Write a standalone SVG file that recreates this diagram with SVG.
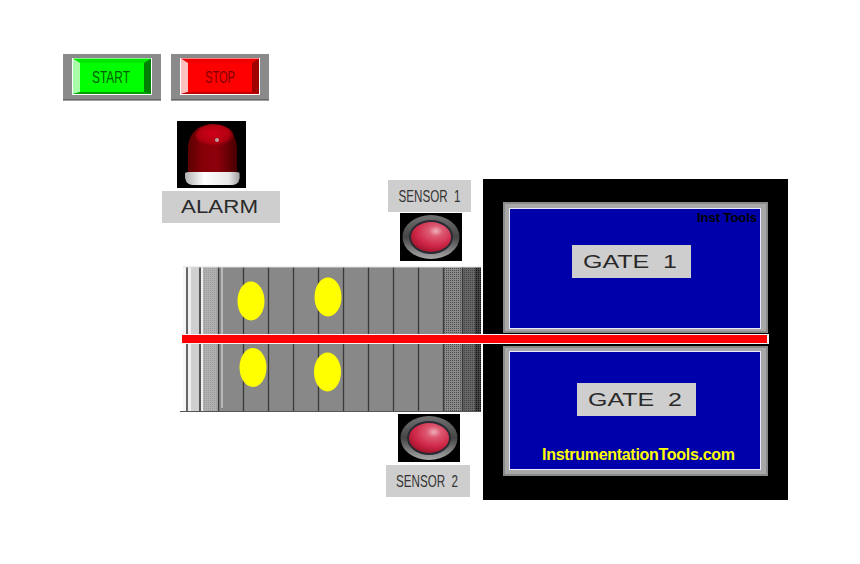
<svg xmlns="http://www.w3.org/2000/svg" width="860" height="564" viewBox="0 0 860 564">
<style>
.thin{font-family:"Liberation Sans",Arial,sans-serif;fill:#333;text-anchor:middle;font-size:16.500px}
.wide{font-family:"Liberation Sans",Arial,sans-serif;fill:#2a2a2a;text-anchor:middle;font-size:18px}
.lbl{fill:#cecece}
.belt{stroke:#3a3a3a;stroke-width:1.300}
.bar{stroke:#e8e8e8;stroke-width:1}
.dot{fill:#ffff00}
.frame{fill:#8a8a8a}
.frame2{fill:#a8a8a8}
.face{fill:#0000aa;stroke:#e8e8ff;stroke-width:1}
</style>
<defs>
<pattern id="st1" width="2" height="2" patternUnits="userSpaceOnUse"><rect width="2" height="2" fill="#b0b0b0"/><rect width="1" height="1" fill="#999"/></pattern>
<pattern id="st2" width="2" height="2" patternUnits="userSpaceOnUse"><rect width="2" height="2" fill="#8a8a8a"/><rect width="1" height="1" fill="#4c4c4c"/></pattern>
<pattern id="st3" width="2" height="2" patternUnits="userSpaceOnUse"><rect width="2" height="2" fill="#666"/><rect width="1" height="1" fill="#444"/></pattern>
<pattern id="st4" width="2" height="2" patternUnits="userSpaceOnUse"><rect width="2" height="2" fill="#444"/><rect width="1" height="1" fill="#111"/></pattern>
<radialGradient id="lamp" cx="0.62" cy="0.3" r="0.8"><stop offset="0" stop-color="#f0b0bc"/><stop offset="0.22" stop-color="#dc5a72"/><stop offset="0.6" stop-color="#d02848"/><stop offset="1" stop-color="#980c24"/></radialGradient>
<linearGradient id="ring" x1="0" y1="0" x2="0" y2="1"><stop offset="0" stop-color="#707070"/><stop offset="0.5" stop-color="#454545"/><stop offset="1" stop-color="#a8a8a8"/></linearGradient>
<linearGradient id="dome" x1="0" y1="0" x2="1" y2="0"><stop offset="0" stop-color="#5a0000"/><stop offset="0.3" stop-color="#860008"/><stop offset="0.6" stop-color="#8c000c"/><stop offset="1" stop-color="#480000"/></linearGradient>
<radialGradient id="glow" cx="0.45" cy="0.4" r="0.6"><stop offset="0" stop-color="#d00018"/><stop offset="0.7" stop-color="#b00010"/><stop offset="1" stop-color="#8c000c" stop-opacity="0"/></radialGradient>
<linearGradient id="base" x1="0" y1="0" x2="1" y2="0"><stop offset="0" stop-color="#b0b0b0"/><stop offset="0.35" stop-color="#fff"/><stop offset="0.8" stop-color="#e8e8e8"/><stop offset="1" stop-color="#a0a0a0"/></linearGradient>
</defs>
<rect width="860" height="564" fill="#fff"/>

<g id="start">
<rect x="63" y="54" width="98" height="46" class="frame"/>
<rect x="63" y="99.500" width="98" height="1" fill="#444"/>
<rect x="72" y="58" width="80" height="37" fill="#fff"/>
<rect x="73" y="58.500" width="78" height="35.500" fill="#00e800"/>
<polygon points="73,58.500 80,63 80,92 73,94" fill="#a8ffa8"/>
<polygon points="151,58.500 144,63 144,92 151,94" fill="#008000"/>
<polygon points="73,94 80,92 144,92 151,94" fill="#00a000"/>
<rect x="80" y="63" width="64" height="29" fill="#00ff00"/>
<text class="thin" x="111" y="83" textLength="38" lengthAdjust="spacingAndGlyphs" style="fill:#006000">START</text>
</g>
<g id="stop">
<rect x="171" y="54" width="98" height="46" class="frame"/>
<rect x="171" y="99.500" width="98" height="1" fill="#444"/>
<rect x="180" y="58" width="80" height="37" fill="#fff"/>
<rect x="181" y="58.500" width="78" height="35.500" fill="#f00000"/>
<polygon points="181,58.500 188,63 188,92 181,94" fill="#ffc0c0"/>
<polygon points="259,58.500 252,63 252,92 259,94" fill="#a00000"/>
<polygon points="181,94 188,92 252,92 259,94" fill="#c00000"/>
<rect x="188" y="63" width="64" height="29" fill="#ff0000"/>
<text class="thin" x="220" y="83" textLength="30" lengthAdjust="spacingAndGlyphs" style="fill:#800000">STOP</text>
</g>

<g id="alarm">
<rect x="177" y="121" width="69" height="67" fill="#000"/>
<path d="M188,174 V149 C188,133 199,124 213,124 C228,124 237,135 237,150 V174 Z" fill="url(#dome)"/>
<ellipse cx="215" cy="136" rx="19" ry="11" fill="url(#glow)"/>
<circle cx="217" cy="140" r="2" fill="#b8a0a0"/>
<path d="M185,173 Q186,172 190,172 H235 Q239,172 239.500,173 Q241,184 233,185 H192 Q184,184 185,173 Z" fill="url(#base)"/>
<rect x="162" y="191" width="118" height="32" class="lbl"/>
<text class="wide" x="219.500" y="212.500" textLength="77" lengthAdjust="spacingAndGlyphs">ALARM</text>
</g>

<g id="conveyor">
<rect x="183" y="267" width="298" height="144" fill="#888"/>
<rect x="183" y="267" width="3" height="144" fill="#f6f6f6"/>
<rect x="186" y="267" width="2" height="144" fill="#666"/>
<rect x="188" y="267" width="3" height="144" fill="#f0f0f0"/>
<rect x="191" y="267" width="8" height="144" fill="#d0d0d0"/>
<rect x="199" y="267" width="2" height="144" fill="#555"/>
<rect x="201" y="267" width="2" height="144" fill="#eee"/>
<rect x="203" y="267" width="15" height="144" fill="url(#st1)"/>
<rect x="444" y="267" width="18" height="144" fill="url(#st2)"/>
<rect x="463" y="267" width="12" height="144" fill="url(#st3)"/>
<rect x="475" y="267" width="6" height="144" fill="url(#st4)"/>
<line class="bar" x1="222" y1="267" x2="222" y2="408"/>
<path class="belt" d="M218.500,267V411M243.500,267V411M268.500,267V411M293.500,267V411M318.500,267V411M343.500,267V411M368.500,267V411M393.500,267V411M418.500,267V411M443.500,267V411M462.500,267V411"/>
<line x1="180" y1="411.500" x2="481" y2="411.500" stroke="#555" stroke-width="1.200"/>
<line x1="183" y1="267" x2="481" y2="267" stroke="#ddd" stroke-width="1"/>
<ellipse class="dot" cx="251" cy="301" rx="13.500" ry="19.500"/>
<ellipse class="dot" cx="328" cy="297" rx="13.500" ry="19.500"/>
<ellipse class="dot" cx="253" cy="367.500" rx="13.500" ry="19.500"/>
<ellipse class="dot" cx="327.500" cy="372" rx="13.500" ry="19.500"/>
</g>

<g id="gates">
<rect x="483" y="179" width="305" height="321" fill="#000"/>
</g>
<g id="gate1">
<rect x="503" y="202" width="265" height="131" class="frame"/>
<rect x="505" y="204" width="261" height="127" class="frame2"/>
<rect x="509.500" y="208.500" width="251" height="120" class="face"/>
<text x="727" y="222" font-family="Liberation Sans,sans-serif" font-weight="700" font-size="13" fill="#000" text-anchor="middle" textLength="60">Inst Tools</text>
<rect x="572" y="245" width="119" height="33" class="lbl"/>
<text class="wide" x="630" y="267.500" textLength="94" lengthAdjust="spacingAndGlyphs" xml:space="preserve">GATE  1</text>
</g>
<g id="gate2">
<rect x="503" y="346" width="265" height="130" class="frame"/>
<rect x="505" y="348" width="261" height="126" class="frame2"/>
<rect x="509.500" y="351.500" width="251" height="118" class="face"/>
<rect x="577" y="383" width="119" height="33" class="lbl"/>
<text class="wide" x="635" y="405.500" textLength="94" lengthAdjust="spacingAndGlyphs" xml:space="preserve">GATE  2</text>
<text x="638.500" y="460" font-family="Liberation Sans,sans-serif" font-weight="700" font-size="16" fill="#ffff00" text-anchor="middle" textLength="193">InstrumentationTools.com</text>
</g>

<rect id="bar" x="182" y="334" width="587" height="10" fill="#f4f4f4"/>
<rect x="182" y="335" width="585" height="8" fill="#ff0000"/>

<g id="sensor1">
<rect x="388" y="180" width="83" height="32" class="lbl"/>
<text class="thin" x="429.500" y="202" textLength="62" lengthAdjust="spacingAndGlyphs" xml:space="preserve">SENSOR  1</text>
<rect x="400" y="213" width="62" height="48" fill="#000"/>
<ellipse cx="431" cy="237" rx="28.500" ry="22" fill="url(#ring)"/>
<ellipse cx="431" cy="237" rx="22" ry="17" fill="#2a2a34"/>
<ellipse cx="431" cy="237" rx="20" ry="15" fill="url(#lamp)"/>
</g>
<g id="sensor2">
<rect x="398" y="414" width="62" height="48" fill="#000"/>
<ellipse cx="429" cy="438" rx="28.500" ry="22" fill="url(#ring)"/>
<ellipse cx="429" cy="438" rx="22" ry="17" fill="#2a2a34"/>
<ellipse cx="429" cy="438" rx="20" ry="15" fill="url(#lamp)"/>
<rect x="386" y="465" width="84" height="32" class="lbl"/>
<text class="thin" x="427" y="486.500" textLength="62" lengthAdjust="spacingAndGlyphs" xml:space="preserve">SENSOR  2</text>
</g>
</svg>
